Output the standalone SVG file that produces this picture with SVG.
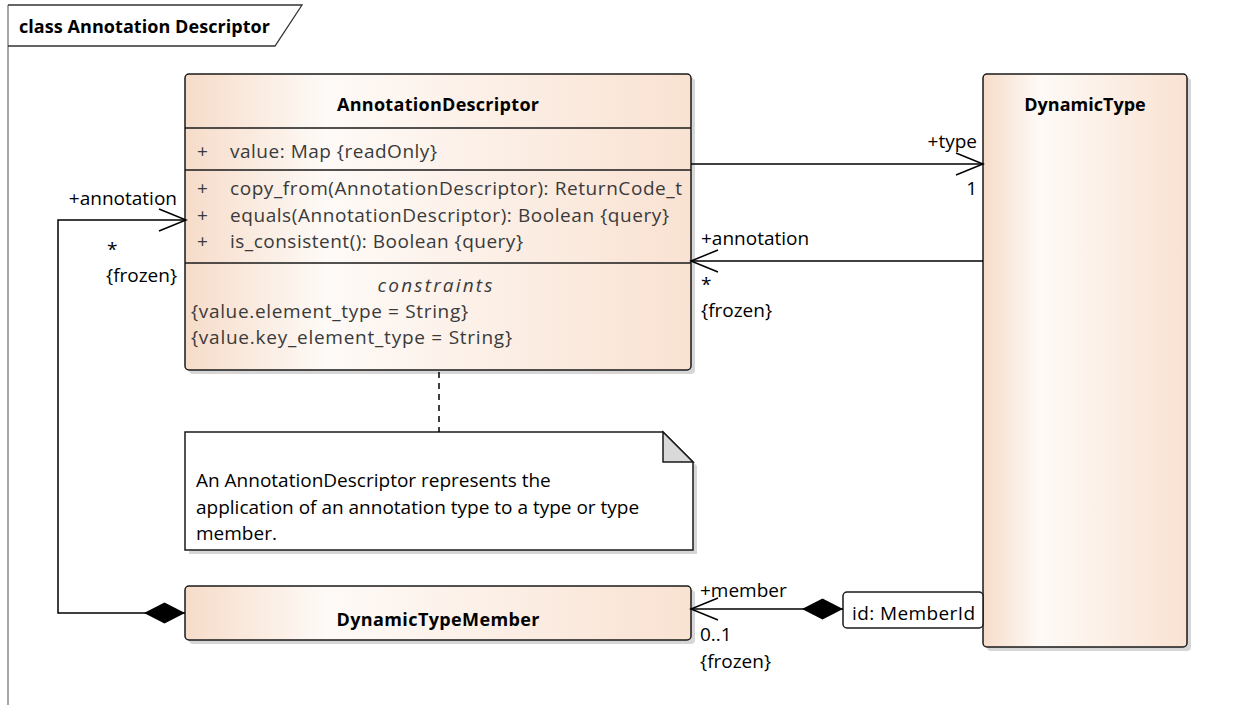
<svg xmlns="http://www.w3.org/2000/svg" width="1233" height="705" viewBox="0 0 1233 705">
<defs>
<linearGradient id="peach" x1="0" y1="0" x2="1" y2="0">
<stop offset="0" stop-color="#f6dcc9"/>
<stop offset="0.28" stop-color="#fefaf7"/>
<stop offset="1" stop-color="#f9e2d2"/>
</linearGradient>
<marker id="openArrow" viewBox="0 0 30 24" refX="28" refY="12" markerWidth="30" markerHeight="24" markerUnits="userSpaceOnUse" orient="auto">
<path d="M1,1 L28,12 L1,23" fill="none" stroke="#000" stroke-width="1.5"/>
</marker>
<marker id="diamond" viewBox="0 0 41 22" refX="0" refY="11" markerWidth="41" markerHeight="22" markerUnits="userSpaceOnUse" orient="auto">
<path d="M0,11 L20.5,0.5 L41,11 L20.5,21.5 Z" fill="#000"/>
</marker>
</defs>
<style>
.box{fill:url(#peach);stroke:#1a1a1a;stroke-width:1.5}
.shadow{fill:#d6d6d6}
.sep{stroke:#1a1a1a;stroke-width:1.5}
.name{font-family:"Open Sans","Liberation Sans",sans-serif;font-size:18px;font-weight:bold;fill:#000}
.member{font-family:"Open Sans","Liberation Sans",sans-serif;font-size:19px;fill:#3a3a3a}
.lbl{font-family:"Open Sans","Liberation Sans",sans-serif;font-size:19px;fill:#000}
.conn{fill:none;stroke:#000;stroke-width:1.5}
</style>
<rect width="1233" height="705" fill="#fff"/>
<g id="frame">
<line x1="8" y1="5" x2="8" y2="705" stroke="#8a8a8a" stroke-width="1.5"/>
<path d="M8,5 H302 L275,46 H8" fill="none" stroke="#333" stroke-width="1.3"/>
<text x="19" y="33" class="name" textLength="251" lengthAdjust="spacing">class Annotation Descriptor</text>
</g>
<g id="AnnotationDescriptor">
<rect x="189" y="78" width="506" height="296" rx="4" class="shadow"/>
<rect x="185" y="74" width="506" height="296" rx="4" class="box"/>
<line x1="185" y1="128" x2="691" y2="128" class="sep"/>
<line x1="185" y1="170" x2="691" y2="170" class="sep"/>
<line x1="185" y1="263" x2="691" y2="263" class="sep"/>
<text x="438" y="111" class="name" text-anchor="middle" textLength="202" lengthAdjust="spacing">AnnotationDescriptor</text>
<text x="197" y="158" class="member">+</text>
<text x="230" y="158" class="member" textLength="207" lengthAdjust="spacing">value: Map {readOnly}</text>
<text x="197" y="195" class="member">+</text>
<text x="230" y="195" class="member" textLength="452" lengthAdjust="spacing">copy_from(AnnotationDescriptor): ReturnCode_t</text>
<text x="197" y="222" class="member">+</text>
<text x="230" y="222" class="member" textLength="439" lengthAdjust="spacing">equals(AnnotationDescriptor): Boolean {query}</text>
<text x="197" y="248" class="member">+</text>
<text x="230" y="248" class="member" textLength="293" lengthAdjust="spacing">is_consistent(): Boolean {query}</text>
<text x="435" y="292" class="member" text-anchor="middle" font-style="italic" textLength="115" lengthAdjust="spacing">constraints</text>
<text x="191" y="318" class="member" textLength="277" lengthAdjust="spacing">{value.element_type = String}</text>
<text x="191" y="344" class="member" textLength="321" lengthAdjust="spacing">{value.key_element_type = String}</text>
</g>
<g id="DynamicType">
<rect x="987" y="78" width="204" height="573" rx="4" class="shadow"/>
<rect x="983" y="74" width="204" height="573" rx="4" class="box"/>
<text x="1085" y="111" class="name" text-anchor="middle">DynamicType</text>
</g>
<g id="MemberIdQualifier">
<rect x="843" y="592" width="140" height="36" rx="4" fill="#fff" stroke="#1a1a1a" stroke-width="1.5"/>
<text x="852" y="620" class="lbl" textLength="123" lengthAdjust="spacing">id: MemberId</text>
</g>
<g id="DynamicTypeMember">
<rect x="189" y="590" width="506" height="54" rx="4" class="shadow"/>
<rect x="185" y="586" width="506" height="54" rx="4" class="box"/>
<text x="438" y="626" class="name" text-anchor="middle" textLength="203" lengthAdjust="spacing">DynamicTypeMember</text>
</g>
<g id="Note">
<path d="M189,436 H667 L697,466 V554 H189 Z" class="shadow"/>
<path d="M185,432 H663 L693,462 V550 H185 Z" fill="#fff" stroke="#1a1a1a" stroke-width="1.5"/>
<path d="M663,432 V462 H693 Z" fill="#d9d9d9" stroke="#1a1a1a" stroke-width="1.5"/>
<text x="196" y="487" class="lbl">An AnnotationDescriptor represents the</text>
<text x="196" y="514" class="lbl">application of an annotation type to a type or type</text>
<text x="196" y="540" class="lbl">member.</text>
</g>
<g id="connectors">
<line x1="439" y1="372" x2="439" y2="432" stroke="#000" stroke-width="1.5" stroke-dasharray="6,5"/>
<path d="M691,164 H983" class="conn" marker-end="url(#openArrow)"/>
<path d="M983,261 H691" class="conn" marker-end="url(#openArrow)"/>
<path d="M185,613 H58 V220 H186" class="conn" marker-start="url(#diamond)" marker-end="url(#openArrow)"/>
<path d="M843,609 H691" class="conn" marker-start="url(#diamond)" marker-end="url(#openArrow)"/>
<text x="977" y="148" class="lbl" text-anchor="end">+type</text>
<text x="977" y="195" class="lbl" text-anchor="end">1</text>
<text x="701" y="245" class="lbl">+annotation</text>
<text x="701" y="291" class="lbl">*</text>
<text x="701" y="317" class="lbl">{frozen}</text>
<text x="177" y="205" class="lbl" text-anchor="end">+annotation</text>
<text x="107" y="256" class="lbl">*</text>
<text x="106" y="282" class="lbl">{frozen}</text>
<text x="700" y="597" class="lbl">+member</text>
<text x="700" y="641" class="lbl">0..1</text>
<text x="700" y="668" class="lbl">{frozen}</text>
</g>
</svg>
